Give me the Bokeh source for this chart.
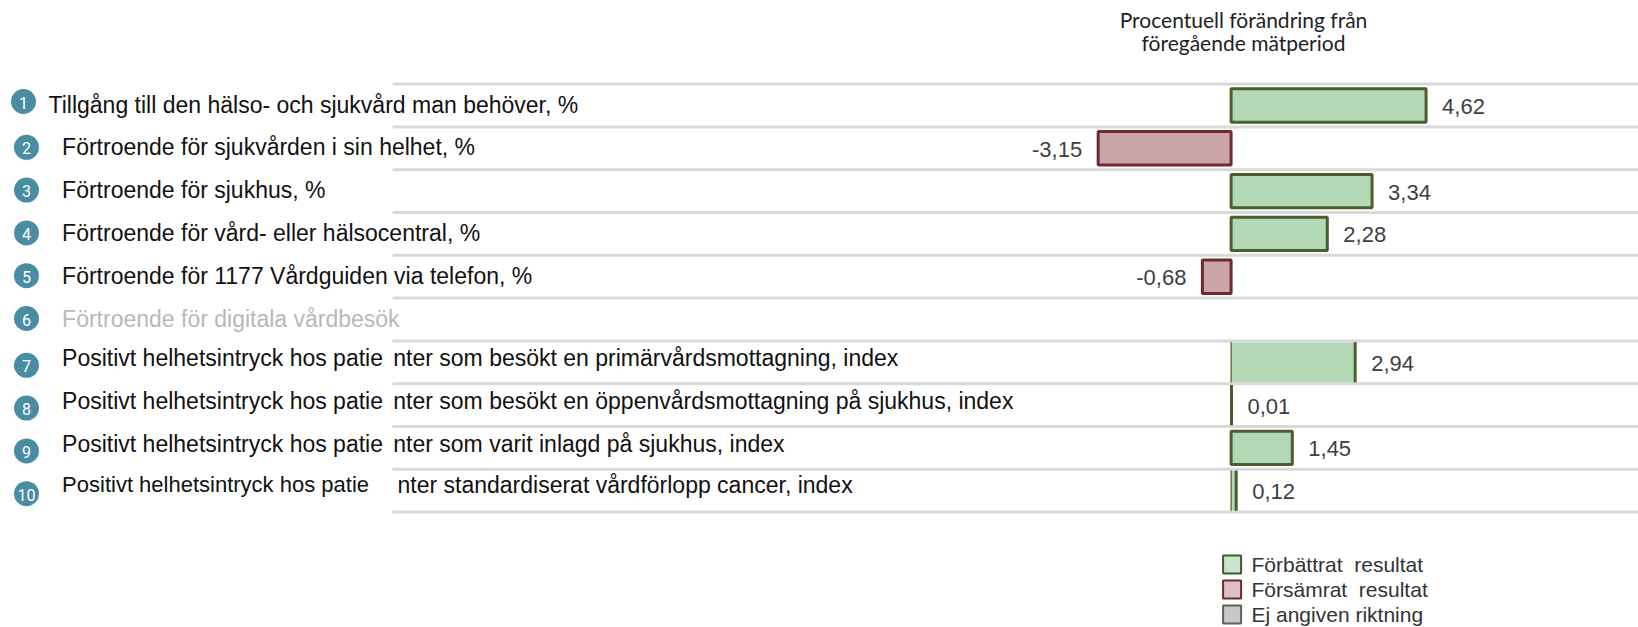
from bokeh.plotting import figure
from bokeh.models import Range1d, ColumnDataSource
from bokeh.core.properties import value
from bokeh.embed import file_html
from bokeh.resources import INLINE

# ---------------- data ----------------
ROW_NUMBERS = ["1", "2", "3", "4", "5", "6", "7", "8", "9", "10"]
LABELS = [
    "Tillgång till den hälso- och sjukvård man behöver, %",
    "Förtroende för sjukvården i sin helhet, %",
    "Förtroende för sjukhus, %",
    "Förtroende för vård- eller hälsocentral, %",
    "Förtroende för 1177 Vårdguiden via telefon, %",
    "Förtroende för digitala vårdbesök",
    "Positivt helhetsintryck hos patienter som besökt en primärvårdsmottagning, index",
    "Positivt helhetsintryck hos patienter som besökt en öppenvårdsmottagning på sjukhus, index",
    "Positivt helhetsintryck hos patienter som varit inlagd på sjukhus, index",
    "Positivt helhetsintryck hos patienter standardiserat vårdförlopp cancer, index",
]
CHANGES = [4.62, -3.15, 3.34, 2.28, -0.68, None, 2.94, 0.01, 1.45, 0.12]
TITLE_LINES = ["Procentuell förändring från", "föregående mätperiod"]
LEGEND_LABELS = ["Förbättrat\u00a0 resultat", "Försämrat\u00a0 resultat", "Ej angiven riktning"]

# ---------------- layout / style ----------------
W, H = 1638, 627
ZERO_PX = 1230.6
PPU = 42.2
ROW_PITCH = 42.8
ROW1_PX = 105.0
FRAMELESS_ROWS = {7, 8, 10}
DISABLED_ROWS = {6}
SPLIT_ROWS = {7, 8, 9, 10}

GREEN_FILL, GREEN_LINE = "#b3d8b5", "#4b5e2e"
RED_FILL, RED_LINE = "#c9a5aa", "#6e2a33"
CIRCLE = "#4a8ca4"
GRID = "#d9d9d9"
LABEL_FONT = value("Liberation Sans")


def X(px):
    return (px - ZERO_PX) / PPU


def Y(px):
    return 1 + (px - ROW1_PX) / ROW_PITCH


p = figure(width=W, height=H, output_backend="svg", toolbar_location=None,
           x_range=Range1d(X(0), X(W)), y_range=Range1d(Y(H), Y(0)),
           min_border=0, outline_line_color=None)
p.axis.visible = False
p.grid.visible = False
p.background_fill_color = "white"

rows = list(range(1, len(LABELS) + 1))

# grid lines (row separators)
seps = [r - 0.5 for r in rows] + [rows[-1] + 0.5]
p.segment(x0=[X(392)] * len(seps), x1=[X(W + 10)] * len(seps), y0=seps, y1=seps,
          line_color=GRID, line_width=3)

# bars
framed = dict(y=[], left=[], right=[], fill=[], line=[])
plain = dict(y=[], left=[], right=[], fill=[], line=[])
for r, v in zip(rows, CHANGES):
    if v is None:
        continue
    d = plain if r in FRAMELESS_ROWS else framed
    d["y"].append(r)
    d["left"].append(min(0, v))
    d["right"].append(max(0, v))
    d["fill"].append(GREEN_FILL if v >= 0 else RED_FILL)
    d["line"].append(GREEN_LINE if v >= 0 else RED_LINE)

p.hbar(y="y", left="left", right="right", height=0.93, source=ColumnDataSource(plain),
       fill_color="fill", line_color=None)
p.segment(x0=plain["right"], x1=plain["right"], y0=[y - 0.47 for y in plain["y"]],
          y1=[y + 0.47 for y in plain["y"]], line_color=plain["line"], line_width=3)
p.segment(x0=[0] * len(plain["y"]), x1=[0] * len(plain["y"]), y0=[y - 0.47 for y in plain["y"]],
          y1=[y + 0.47 for y in plain["y"]], line_color=plain["line"], line_width=1.2)
p.hbar(y="y", left="left", right="right", height=0.78, source=ColumnDataSource(framed),
       fill_color="fill", line_color="line", line_width=3)

# value labels
pos = dict(x=[], y=[], t=[])
neg = dict(x=[], y=[], t=[])
for r, v in zip(rows, CHANGES):
    if v is None:
        continue
    d = pos if v >= 0 else neg
    d["x"].append(v)
    d["y"].append(r)
    d["t"].append(f"{v:.2f}".replace(".", ","))
p.text(x="x", y="y", text="t", source=ColumnDataSource(pos), x_offset=16, y_offset=1,
       text_font=LABEL_FONT, text_font_size="22px", text_color="#404040",
       text_baseline="middle", text_align="left")
p.text(x="x", y="y", text="t", source=ColumnDataSource(neg), x_offset=-16, y_offset=1,
       text_font=LABEL_FONT, text_font_size="22px", text_color="#404040",
       text_baseline="middle", text_align="right")

# numbered circles
cx = [X(23) if r == 1 else X(26) for r in rows]
cy_off = [3 if r in SPLIT_ROWS else (-4 if r == 1 else -1) for r in rows]
cy = [r + o / ROW_PITCH for r, o in zip(rows, cy_off)]
p.scatter(x=cx, y=cy, size=25, marker="circle", fill_color=CIRCLE, line_color=None)
p.text(x=cx, y=cy, text=ROW_NUMBERS, text_font=value("Roboto"), text_font_size="16px",
       text_color="white", text_align="center", text_baseline="middle", y_offset=1)

# row labels
lab = dict(x=[], y=[], t=[], c=[], s=[])
for r, t in zip(rows, LABELS):
    col = "#b8b8b8" if r in DISABLED_ROWS else "#111111"
    if r in SPLIT_ROWS:
        k = t.index("patie") + 5
        parts = [(X(61.6), t[:k], "22px" if r == 10 else "23px"),
                 (X(397 if r == 10 else 392.8), t[k:], "23px")]
        yy = r - (6 if r == 10 else 4) / ROW_PITCH
    else:
        parts = [(X(48 if r == 1 else 61.6), t, "23px")]
        yy = r - 1 / ROW_PITCH
    for x, s, fs in parts:
        lab["x"].append(x)
        lab["y"].append(yy)
        lab["t"].append(s)
        lab["c"].append(col)
        lab["s"].append(fs)
p.text(x="x", y="y", text="t", text_color="c", text_font_size="s", source=ColumnDataSource(lab),
       text_font=LABEL_FONT, text_baseline="middle", text_align="left")

# title
p.text(x=[X(1243)] * 2, y=[Y(19), Y(42)], text=TITLE_LINES, text_font=value("Lato"),
       text_font_size="21px", text_color="#222222", text_align="center", text_baseline="middle")

# legend
leg_y = [Y(564), Y(589), Y(614)]
p.scatter(x=[X(1231.6)] * 3, y=leg_y, marker="square", size=18,
          fill_color=["#c9e5cc", "#dcc0c4", "#c8c8c8"],
          line_color=["#3e5a2c", "#6b2a30", "#606060"], line_width=2)
p.text(x=[X(1251)] * 3, y=leg_y, text=LEGEND_LABELS, text_font=LABEL_FONT,
       text_font_size="21px", text_color="#333333", text_baseline="middle", text_align="left")

open("out.html", "w").write(file_html(p, INLINE))
